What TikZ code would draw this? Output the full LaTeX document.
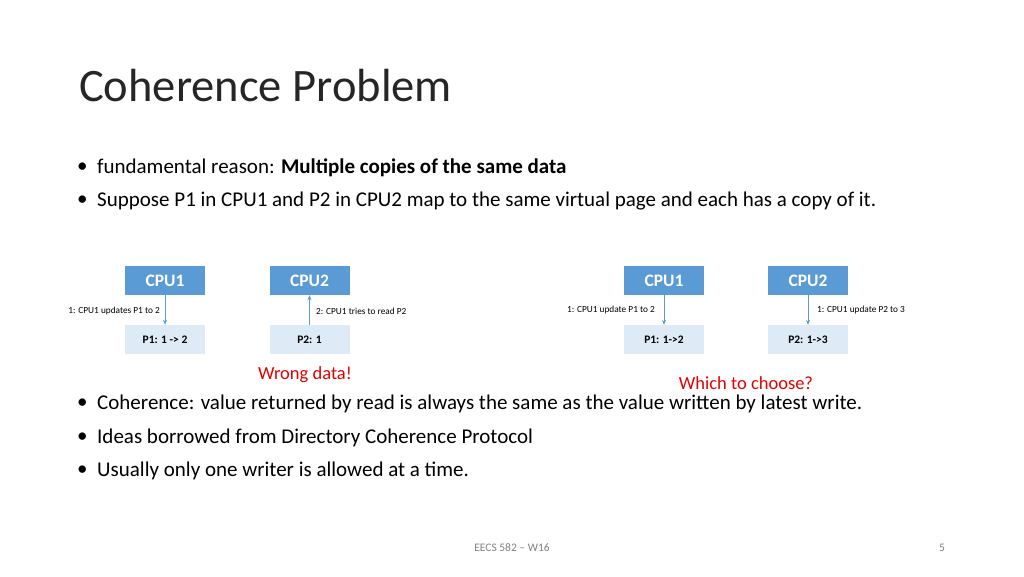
\documentclass[tikz,border=0pt]{standalone}
\usepackage{fontspec}
\setmainfont{Carlito}
\usetikzlibrary{arrows.meta}
\begin{document}
\begin{tikzpicture}[x=1pt,y=-1pt,
  cpu/.style={fill=cpublue,text=white,font=\fontsize{17.5}{17.5}\selectfont\bfseries,minimum width=80pt,minimum height=29pt,inner sep=0},
  mem/.style={fill=memblue,text=black,font=\fontsize{11.5}{11.5}\selectfont\bfseries,minimum width=80pt,minimum height=29pt,inner sep=0},
  lbl/.style={font=\fontsize{9.3}{9.3}\selectfont,inner sep=0},
  bul/.style={anchor=west,font=\fontsize{21}{21}\selectfont,inner sep=0},
  arr/.style={draw=arrblue,line width=0.8pt,-{Stealth[length=5pt,width=4pt]}},
  red/.style={text=red!90!black,font=\fontsize{18.5}{18.5}\selectfont,inner sep=0}]
\definecolor{cpublue}{RGB}{91,155,213}
\definecolor{memblue}{RGB}{222,235,247}
\definecolor{arrblue}{RGB}{91,155,213}
\useasboundingbox (0,0) rectangle (1024,576);
\fill[white] (0,0) rectangle (1024,576);
\node[anchor=west,inner sep=0,font=\fontsize{46.5}{46.5}\selectfont,text=black!85] (title) at (79,86) {Coherence Problem};
\foreach \y/\t [count=\i] in {168/{fundamental reason: \textbf{Multiple copies of the same data}},
  201/{Suppose P1 in CPU1 and P2 in CPU2 map to the same virtual page and each has a copy of it.},
  404/{Coherence: value returned by read is always the same as the value written by latest write.},
  438/{Ideas borrowed from Directory Coherence Protocol},
  471/{Usually only one writer is allowed at a time.}}{
  \node[bul] (d\i) at (77,\y) {•};
  \node[bul] (b\i) at (97,\y) {\t};
}
\node[cpu] (c1) at (165,280.5) {CPU1};
\node[cpu] (c2) at (309.5,280.5) {CPU2};
\node[mem] (p1) at (165,339.5) {P1: 1 -> 2};
\node[mem] (p2) at (309.5,339.5) {P2: 1};
\draw[arr] (c1) -- (p1);
\draw[arr] (p2) -- (c2);
\node[lbl,anchor=east] (l1) at (160,311) {1: CPU1 updates P1 to 2};
\node[lbl,anchor=west] (l2) at (316,311) {2: CPU1 tries to read P2};
\node[red] (w) at (305,375) {Wrong data!};
\node[cpu] (c3) at (664,280.5) {CPU1};
\node[cpu] (c4) at (808,280.5) {CPU2};
\node[mem] (p3) at (664,339.5) {P1: 1->2};
\node[mem] (p4) at (808,339.5) {P2: 1->3};
\draw[arr] (c3) -- (p3);
\draw[arr] (c4) -- (p4);
\node[lbl,anchor=east] (l3) at (655,310) {1: CPU1 update P1 to 2};
\node[lbl,anchor=west] (l4) at (817,310) {1: CPU1 update P2 to 3};
\node[red] (wc) at (746,383) {Which to choose?};
\node[inner sep=0,font=\fontsize{11.5}{11.5}\selectfont,text=black!50] (f) at (512,548) {EECS 582 -- W16};
\node[inner sep=0,font=\fontsize{11.5}{11.5}\selectfont,text=black!50] (n) at (942,548) {5};
\end{tikzpicture}
\end{document}
